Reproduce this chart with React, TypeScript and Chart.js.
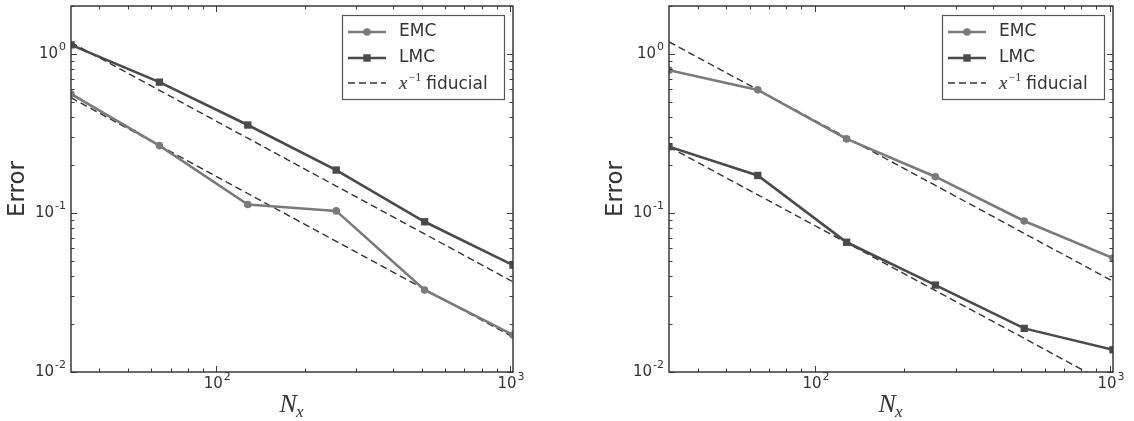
import React, { useEffect, useRef } from 'react';
import { Chart, registerables } from 'chart.js';

Chart.register(...registerables);

// ---------- data ----------
const nx = [32, 64, 128, 256, 512, 1024];

const leftEMC = [0.56, 0.265, 0.113, 0.103, 0.0328, 0.0171];
const leftLMC = [1.14, 0.664, 0.357, 0.186, 0.088, 0.047];
const leftFidUpper = [1.18, 0.59, 0.295, 0.1475, 0.0738, 0.0369];
const leftFidLower = [0.53, 0.265, 0.1325, 0.0663, 0.0331, 0.0166];

const rightEMC = [0.79, 0.594, 0.292, 0.169, 0.089, 0.052];
const rightLMC = [0.261, 0.172, 0.0654, 0.0352, 0.0188, 0.0138];
const rightFidUpper = [1.19, 0.595, 0.2975, 0.149, 0.0744, 0.0372];
const rightFidLower = [0.26, 0.13, 0.065, 0.0325, 0.0163, 0.0081];

const xTickValues = [100, 1000];
const xTickExponents = ['2', '3'];
const yTickValues = [0.01, 0.1, 1];
const yTickExponents = ['-2', '-1', '0'];

const seriesNames = ['EMC', 'LMC'];
const yTitle = 'Error';

// ---------- styles ----------
const EMC_COLOR = '#7a7a7a';
const LMC_COLOR = '#4a4a4a';
const FID_COLOR = '#333333';
const AXIS_COLOR = '#3a3a3a';
const TEXT_COLOR = '#333333';

const toPts = (ys: number[]) => nx.map((x, i) => ({ x, y: ys[i] }));

function powLabelWidth(ctx: CanvasRenderingContext2D, exp: string) {
  ctx.font = '15px "DejaVu Sans"';
  const w1 = ctx.measureText('10').width;
  ctx.font = '11px "DejaVu Sans"';
  const w2 = ctx.measureText(exp).width;
  return { w1, w2, total: w1 + 1 + w2 };
}

function drawPowLabel(ctx: CanvasRenderingContext2D, exp: string, left: number, midY: number) {
  const { w1 } = powLabelWidth(ctx, exp);
  ctx.textAlign = 'left';
  ctx.textBaseline = 'middle';
  ctx.font = '15px "DejaVu Sans"';
  ctx.fillText('10', left, midY);
  ctx.font = '11px "DejaVu Sans"';
  ctx.fillText(exp, left + w1 + 1, midY - 7);
}

const decorPlugin = {
  id: 'decor',
  afterDraw(chart: any) {
    const { ctx, chartArea: a, scales } = chart;
    const xs = scales.x;
    const ys = scales.y;
    ctx.save();
    // frame
    ctx.strokeStyle = AXIS_COLOR;
    ctx.lineWidth = 1.5;
    ctx.strokeRect(a.left, a.top, a.right - a.left, a.bottom - a.top);
    // inward ticks
    ctx.lineWidth = 1;
    ctx.beginPath();
    for (let e = 1; e <= 3; e++) {
      for (let m = 1; m <= 9; m++) {
        const v = m * Math.pow(10, e);
        if (v < xs.min - 1e-9 || v > xs.max + 1e-9) continue;
        const len = m === 1 ? 6 : 3.5;
        const px = Math.round(xs.getPixelForValue(v)) + 0.5;
        ctx.moveTo(px, a.bottom);
        ctx.lineTo(px, a.bottom - len);
        ctx.moveTo(px, a.top);
        ctx.lineTo(px, a.top + len);
      }
    }
    for (let e = -2; e <= 0; e++) {
      for (let m = 1; m <= 9; m++) {
        const v = m * Math.pow(10, e);
        if (v < ys.min * 0.999 || v > ys.max * 1.001) continue;
        const len = m === 1 ? 6 : 3.5;
        const py = Math.round(ys.getPixelForValue(v)) + 0.5;
        ctx.moveTo(a.left, py);
        ctx.lineTo(a.left + len, py);
        ctx.moveTo(a.right, py);
        ctx.lineTo(a.right - len, py);
      }
    }
    ctx.stroke();

    // tick labels from the scales' ticks
    ctx.fillStyle = TEXT_COLOR;
    xs.ticks.forEach((t: any) => {
      const i = xTickValues.findIndex((v) => Math.abs(v - t.value) < 1e-6);
      if (i < 0) return;
      const exp = xTickExponents[i];
      const { total } = powLabelWidth(ctx, exp);
      const px = xs.getPixelForValue(t.value);
      drawPowLabel(ctx, exp, px - total / 2 + 1, a.bottom + 12);
    });
    ys.ticks.forEach((t: any) => {
      const i = yTickValues.findIndex((v) => Math.abs(v - t.value) < 1e-9);
      if (i < 0) return;
      const exp = yTickExponents[i];
      const { total } = powLabelWidth(ctx, exp);
      const py = ys.getPixelForValue(t.value);
      drawPowLabel(ctx, exp, a.left - 5 - total, py);
    });

    // y title
    ctx.save();
    ctx.translate(a.left - 53, (a.top + a.bottom) / 2);
    ctx.rotate(-Math.PI / 2);
    ctx.font = '23px "DejaVu Sans"';
    ctx.textAlign = 'center';
    ctx.textBaseline = 'middle';
    ctx.fillText(yTitle, 0, 0);
    ctx.restore();

    // x title N_x
    const cx = (a.left + a.right) / 2;
    ctx.textAlign = 'left';
    ctx.textBaseline = 'alphabetic';
    ctx.font = 'italic 26px "Liberation Serif"';
    const nW = ctx.measureText('N').width;
    ctx.font = 'italic 17px "Liberation Serif"';
    const xW = ctx.measureText('x').width;
    const start = cx - (nW + xW) / 2;
    ctx.font = 'italic 26px "Liberation Serif"';
    ctx.fillText('N', start, a.bottom + 40);
    ctx.font = 'italic 17px "Liberation Serif"';
    ctx.fillText('x', start + nW - 1, a.bottom + 45);

    // legend
    const bw = 162;
    const bh = 84;
    const bx = a.right - 9 - bw;
    const by = a.top + 9;
    ctx.fillStyle = '#ffffff';
    ctx.fillRect(bx, by, bw, bh);
    ctx.strokeStyle = '#555555';
    ctx.lineWidth = 1.2;
    ctx.strokeRect(bx + 0.5, by + 0.5, bw, bh);
    const rows = [by + 17, by + 43, by + 68];
    const lx0 = bx + 6;
    const lx1 = bx + 44;
    const mid = (lx0 + lx1) / 2;
    // EMC
    ctx.strokeStyle = EMC_COLOR;
    ctx.lineWidth = 2.6;
    ctx.beginPath();
    ctx.moveTo(lx0, rows[0]);
    ctx.lineTo(lx1, rows[0]);
    ctx.stroke();
    ctx.fillStyle = EMC_COLOR;
    ctx.beginPath();
    ctx.arc(mid, rows[0], 3.8, 0, Math.PI * 2);
    ctx.fill();
    // LMC
    ctx.strokeStyle = LMC_COLOR;
    ctx.beginPath();
    ctx.moveTo(lx0, rows[1]);
    ctx.lineTo(lx1, rows[1]);
    ctx.stroke();
    ctx.fillStyle = LMC_COLOR;
    ctx.fillRect(mid - 3.7, rows[1] - 3.7, 7.4, 7.4);
    // fiducial
    ctx.strokeStyle = FID_COLOR;
    ctx.lineWidth = 1.4;
    ctx.setLineDash([7, 4]);
    ctx.beginPath();
    ctx.moveTo(lx0, rows[2]);
    ctx.lineTo(lx1, rows[2]);
    ctx.stroke();
    ctx.setLineDash([]);
    // texts
    ctx.fillStyle = TEXT_COLOR;
    ctx.textBaseline = 'middle';
    ctx.font = '17px "DejaVu Sans"';
    const tx = bx + 57;
    ctx.fillText(seriesNames[0], tx, rows[0]);
    ctx.fillText(seriesNames[1], tx, rows[1]);
    ctx.textBaseline = 'alphabetic';
    const base = rows[2] + 6;
    ctx.font = 'italic 19px "Liberation Serif"';
    ctx.fillText('x', tx, base);
    let cur = tx + ctx.measureText('x').width + 1;
    ctx.font = '12px "Liberation Serif"';
    ctx.fillText('−1', cur, base - 8);
    cur += ctx.measureText('−1').width + 5;
    ctx.font = '17px "DejaVu Sans"';
    ctx.fillText('fiducial', cur, base);
    ctx.restore();
  },
};

function Panel(props: {
  emc: number[];
  lmc: number[];
  fidU: number[];
  fidL: number[];
  yAxisWidth: number;
  padRight: number;
}) {
  const ref = useRef<HTMLCanvasElement | null>(null);
  useEffect(() => {
    if (!ref.current) return;
    const chart = new Chart(ref.current, {
      type: 'line',
      data: {
        datasets: [
          {
            label: 'fidU',
            data: toPts(props.fidU),
            borderColor: FID_COLOR,
            borderWidth: 1.4,
            borderDash: [7, 4],
            pointRadius: 0,
            order: 3,
          },
          {
            label: 'fidL',
            data: toPts(props.fidL),
            borderColor: FID_COLOR,
            borderWidth: 1.4,
            borderDash: [7, 4],
            pointRadius: 0,
            order: 3,
          },
          {
            label: seriesNames[0],
            data: toPts(props.emc),
            borderColor: EMC_COLOR,
            backgroundColor: EMC_COLOR,
            borderWidth: 2.6,
            pointStyle: 'circle',
            pointRadius: 3.8,
            pointBorderWidth: 0,
            pointBackgroundColor: EMC_COLOR,
            order: 2,
          },
          {
            label: seriesNames[1],
            data: toPts(props.lmc),
            borderColor: LMC_COLOR,
            backgroundColor: LMC_COLOR,
            borderWidth: 2.6,
            pointStyle: 'rect',
            pointRadius: 5.2,
            pointBorderWidth: 0,
            pointBackgroundColor: LMC_COLOR,
            order: 1,
          },
        ],
      },
      options: {
        animation: false,
        responsive: false,
        devicePixelRatio: 1,
        layout: { padding: { left: 0, right: props.padRight, top: 6, bottom: 0 } },
        plugins: { legend: { display: false }, tooltip: { enabled: false } },
        elements: { line: { tension: 0 } },
        scales: {
          x: {
            type: 'logarithmic',
            min: 32,
            max: 1024,
            afterBuildTicks: (s: any) => {
              s.ticks = xTickValues.map((v) => ({ value: v }));
            },
            afterFit: (s: any) => {
              s.height = 49;
            },
            grid: { display: false, drawTicks: false },
            border: { display: false },
            ticks: { display: false },
          },
          y: {
            type: 'logarithmic',
            min: 0.01,
            max: 2,
            afterBuildTicks: (s: any) => {
              s.ticks = yTickValues.map((v) => ({ value: v }));
            },
            afterFit: (s: any) => {
              s.width = props.yAxisWidth;
            },
            grid: { display: false, drawTicks: false },
            border: { display: false },
            ticks: { display: false },
          },
        },
      },
      plugins: [decorPlugin],
    } as any);
    return () => chart.destroy();
  }, []);
  return <canvas ref={ref} width={567} height={421} style={{ width: 567, height: 421, display: 'block' }} />;
}

export default function App() {
  return (
    <div
      style={{
        position: 'absolute',
        left: 0,
        top: 0,
        width: 1134,
        height: 421,
        background: '#ffffff',
        display: 'flex',
      }}
    >
      <Panel emc={leftEMC} lmc={leftLMC} fidU={leftFidUpper} fidL={leftFidLower} yAxisWidth={71} padRight={54} />
      <Panel emc={rightEMC} lmc={rightLMC} fidU={rightFidUpper} fidL={rightFidLower} yAxisWidth={102} padRight={21} />
    </div>
  );
}
